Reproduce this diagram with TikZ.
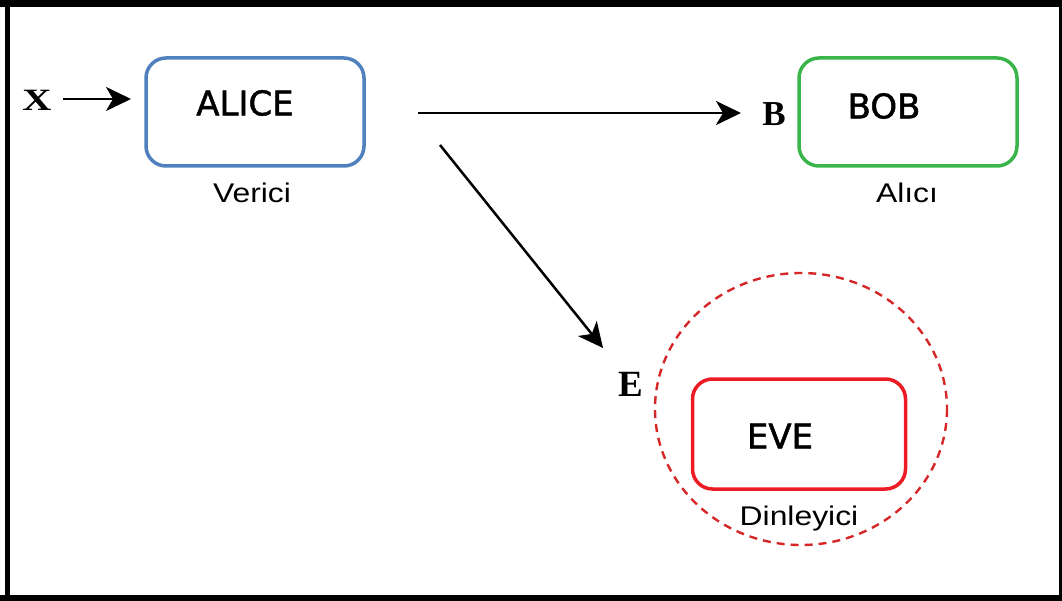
\documentclass[tikz,border=0pt]{standalone}
\usepackage{fontspec}
\setmainfont{Liberation Serif}
\setsansfont{Liberation Sans}
\newfontfamily\boxfont[FakeBold=1.4]{DejaVu Sans}
\usetikzlibrary{arrows.meta}
\definecolor{aliceblue}{RGB}{79,129,189}
\definecolor{bobgreen}{RGB}{57,181,74}
\definecolor{evered}{RGB}{237,28,36}
\definecolor{ringred}{RGB}{214,39,40}
\tikzset{
  party/.style={draw, rounded corners=20pt, line width=3.5pt, minimum width=218pt, minimum height=108pt},
  partyname/.style={font=\boxfont\fontsize{34}{34}\selectfont, inner sep=0pt},
  role/.style={font=\sffamily\fontsize{27}{27}\selectfont, inner sep=0pt, xscale=1.18},
  letter/.style={font=\bfseries\fontsize{35}{35}\selectfont, inner sep=0pt},
  msg/.style={line width=2.5pt, -{Stealth[length=25pt, width=24pt, inset=7pt]}},
}
\begin{document}
\begin{tikzpicture}[x=1pt, y=-1pt]
  \useasboundingbox (0,0) rectangle (1062,601);
  % frame
  \fill[black] (0,0) rectangle (1062,7);
  \fill[black] (5,0) rectangle (10,601);
  \fill[black] (0,595) rectangle (1062,601);
  \fill[black] (1059,0) rectangle (1062,601);

  % parties
  \node[party, draw=aliceblue] (alice) at (255,112) {};
  \node[party, draw=bobgreen] (bob) at (908,112) {};
  \node[party, draw=evered, minimum width=213pt, minimum height=110pt] (eve) at (799,434) {};
  \node[partyname] (alicename) at (245,103) {ALICE};
  \node[partyname] (bobname) at (884,106) {BOB};
  \node[partyname] (evename) at (780,436) {EVE};

  % roles
  \node[role] (verici) at (252,193) {Verici};
  \node[role] (alici) at (907,193) {Alıcı};
  \node[role] (dinleyici) at (799,519) {Dinleyici};

  % eavesdropper range
  \draw[ringred, line width=2.4pt, dash pattern=on 8pt off 6pt] (801,409) ellipse [x radius=146, y radius=136];

  % channel letters
  \node[letter, font=\bfseries\fontsize{31}{31}\selectfont, xscale=1.3] (xlab) at (37,100) {X};
  \node[letter] (blab) at (774,114) {B};
  \node[letter, font=\bfseries\fontsize{37}{37}\selectfont] (elab) at (631,384) {E};

  % messages
  \coordinate (xin) at (63,99);
  \coordinate (xout) at (131,99);
  \coordinate (bin) at (418,113);
  \coordinate (bout) at (741,113);
  \coordinate (ein) at (440,145);
  \coordinate (eout) at (603,348);
  \draw[msg] (xin) -- (xout);
  \draw[msg] (bin) -- (bout);
  \draw[msg] (ein) -- (eout);
\end{tikzpicture}
\end{document}
